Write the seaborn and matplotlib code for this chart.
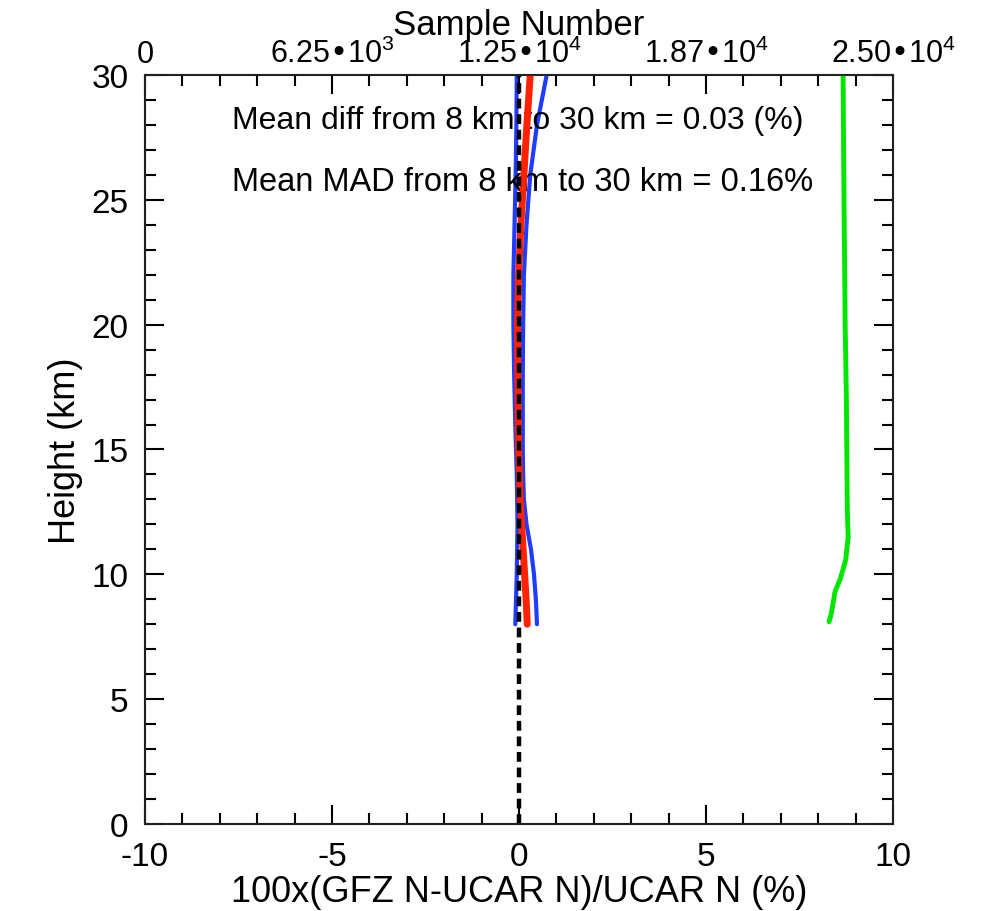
import matplotlib
matplotlib.use("Agg")
import matplotlib.pyplot as plt
import seaborn as sns
import numpy as np
from matplotlib.ticker import MultipleLocator, FixedLocator

sns.set_theme(style="white")
plt.rcParams['font.family'] = ['Liberation Sans', 'DejaVu Sans']
plt.rcParams['mathtext.default'] = 'regular'
plt.rcParams['axes.unicode_minus'] = False
plt.rcParams['text.color'] = 'black'
plt.rcParams['axes.labelcolor'] = 'black'

# Data
heights = [8, 9, 10, 11, 12, 13, 14, 15, 16, 18, 20, 22, 24, 26, 28, 30]
mean_diff = [0.22, 0.19, 0.15, 0.11, 0.07, 0.03, 0.01, -0.01, -0.02, -0.03, -0.04, -0.01, 0.05, 0.13, 0.21, 0.30]
lower = [-0.10, -0.08, -0.06, -0.05, -0.04, -0.05, -0.06, -0.08, -0.10, -0.13, -0.15, -0.15, -0.12, -0.09, -0.07, -0.06]
upper = [0.48, 0.45, 0.40, 0.32, 0.20, 0.13, 0.11, 0.10, 0.10, 0.10, 0.11, 0.13, 0.20, 0.30, 0.48, 0.74]
green_h = [8.1, 8.4, 8.6, 8.8, 9.3, 9.8, 10.2, 10.6, 11.5, 12.6, 17.0, 20.0, 25.0, 30.0]
samples = [22860, 22930, 22960, 22990, 23060, 23230, 23330, 23420, 23500, 23470, 23440, 23400, 23360, 23330]
zero_h = [0, 30]
zero_x = [0, 0]

top_ticks = [0, 6250, 12500, 18750, 25000]
top_labels = ["0", "6.25•10$^{3}$", "1.25•10$^{4}$", "1.87•10$^{4}$", "2.50•10$^{4}$"]

fig = plt.figure(figsize=(9.83, 9.12), dpi=100)
ax = fig.add_axes([0.1475, 0.0954, 0.761, 0.8213])

sns.lineplot(x=lower, y=heights, ax=ax, color='#1f3cff', lw=3, sort=False, orient='y', zorder=3)
sns.lineplot(x=upper, y=heights, ax=ax, color='#1f3cff', lw=3, sort=False, orient='y', zorder=3)
sns.lineplot(x=mean_diff, y=heights, ax=ax, color='#ff2200', lw=5, sort=False, orient='y', zorder=4)
sns.lineplot(x=zero_x, y=zero_h, ax=ax, color='black', lw=3.2, linestyle=(0, (2.2, 1.3)),
             sort=False, orient='y', zorder=5)

ax.set_xlim(-10, 10)
ax.set_ylim(0, 30)
ax.xaxis.set_major_locator(MultipleLocator(5))
ax.xaxis.set_minor_locator(MultipleLocator(1))
ax.yaxis.set_major_locator(MultipleLocator(5))
ax.yaxis.set_minor_locator(MultipleLocator(1))
ax.tick_params(which='both', direction='in', top=False, right=True, bottom=True, left=True,
               labelsize=24, width=1.5, colors='black')
ax.tick_params(which='major', length=14, pad=12)
ax.tick_params(which='minor', length=8)
for s in ax.spines.values():
    s.set_color('black')
    s.set_linewidth(1.5)
ax.set_xlabel("100x(GFZ N-UCAR N)/UCAR N (%)", fontsize=26, labelpad=2)
ax.set_ylabel("Height (km)", fontsize=26, labelpad=6)

ax2 = ax.twiny()
sns.lineplot(x=samples, y=green_h, ax=ax2, color='#00e600', lw=3.5, sort=False, orient='y')
ax2.set_xlim(0, 25000)
ax2.set_ylim(0, 30)
ax2.xaxis.set_major_locator(FixedLocator(top_ticks))
ax2.set_xticklabels(top_labels)
ax2.xaxis.set_minor_locator(MultipleLocator(1250))
ax2.tick_params(which='both', direction='in', top=True, bottom=False, labelsize=22, width=1.5, colors='black')
ax2.tick_params(which='major', length=14, pad=4)
ax2.tick_params(which='minor', length=8)
ax2.set_xlabel("Sample Number", fontsize=25, labelpad=3)
ax2.set_ylabel("")
ax2.grid(False)
ax.grid(False)

ax.text(0.116, 0.94, "Mean diff from 8 km to 30 km = 0.03 (%)", transform=ax.transAxes,
        fontsize=23, va='center', ha='left', color='black')
ax.text(0.116, 0.858, "Mean MAD from 8 km to 30 km = 0.16%", transform=ax.transAxes,
        fontsize=23.5, va='center', ha='left', color='black')

fig.savefig("out.png", dpi=100)
